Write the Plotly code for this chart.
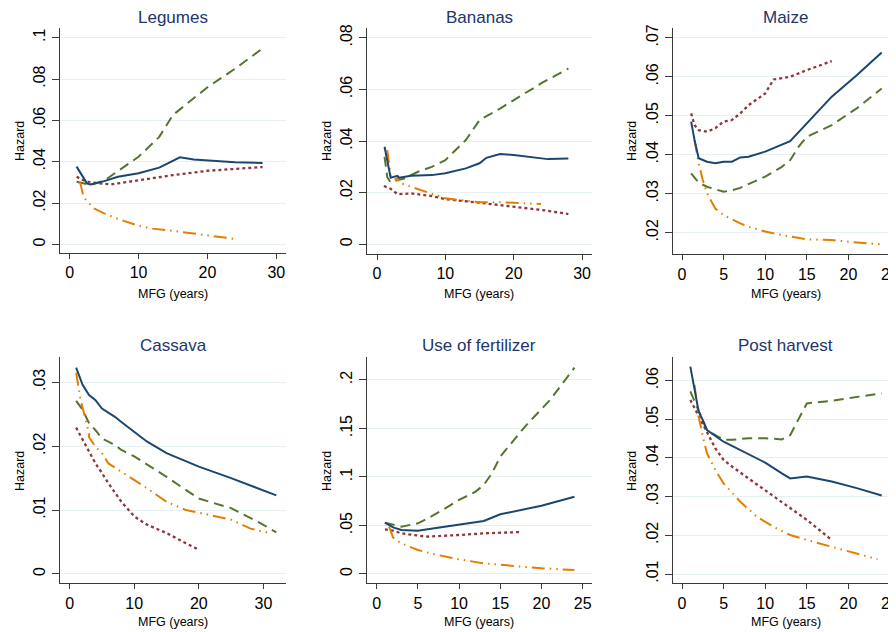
import plotly.graph_objects as go

# The page body has an 8px margin, so the figure is drawn 8px smaller and
# every page coordinate below is shifted by OFF.
OFF = 8
W, H = 896 - OFF, 632 - OFF

# ---------------- data ----------------
titles = ["Legumes", "Bananas", "Maize", "Cassava", "Use of fertilizer", "Post harvest"]
x_title = "MFG (years)"
y_title = "Hazard"

# Legumes
leg_navy_x = [1, 2.5, 3, 5, 7, 10, 13, 16, 18, 24, 28]
leg_navy_y = [0.0376, 0.0295, 0.029, 0.0306, 0.0327, 0.0344, 0.0371, 0.0421, 0.0411, 0.0397, 0.0394]
leg_green_x = [1, 2, 3, 5, 7, 10, 13, 15, 17, 20, 24, 28]
leg_green_y = [0.0303, 0.0295, 0.0287, 0.0308, 0.0355, 0.0424, 0.052, 0.0626, 0.068, 0.076, 0.085, 0.0948]
leg_maroon_x = [1, 2, 3, 6, 10, 15, 20, 25, 28]
leg_maroon_y = [0.0327, 0.031, 0.030, 0.029, 0.031, 0.0335, 0.0356, 0.0368, 0.0374]
leg_orange_x = [1.5, 2, 2.5, 3.5, 5, 7, 10, 12, 15, 18, 22, 24]
leg_orange_y = [0.0303, 0.023, 0.021, 0.0174, 0.015, 0.0123, 0.009, 0.0076, 0.0065, 0.0053, 0.0037, 0.0026]

# Bananas
ban_navy_x = [1.1, 1.5, 2, 3, 3.2, 5, 8, 10, 13, 15, 16, 18, 20, 25, 28]
ban_navy_y = [0.0378, 0.0326, 0.0258, 0.0265, 0.0258, 0.0266, 0.0268, 0.0275, 0.0294, 0.0314, 0.0335, 0.035, 0.0346, 0.033, 0.0332]
ban_green_x = [1.1, 1.5, 2, 3, 4, 6, 8, 10, 13, 15, 18, 20, 24, 28]
ban_green_y = [0.0339, 0.026, 0.0239, 0.0249, 0.0255, 0.0281, 0.030, 0.0326, 0.0404, 0.0481, 0.0526, 0.0559, 0.0623, 0.0681]
ban_maroon_x = [1, 2, 3, 5, 8, 10, 15, 20, 25, 28]
ban_maroon_y = [0.0226, 0.0215, 0.0194, 0.0197, 0.0187, 0.0175, 0.0161, 0.0146, 0.013, 0.0117]
ban_orange_x = [1.5, 2, 3, 3, 3.2, 4, 6, 7, 10, 15, 18, 24]
ban_orange_y = [0.0365, 0.0262, 0.0249, 0.0265, 0.0239, 0.0232, 0.0214, 0.0204, 0.0178, 0.0163, 0.0163, 0.0156]

# Maize
mai_navy_x = [1.1, 1.5, 2, 3, 4, 5, 6, 7, 8, 10, 13, 15, 18, 21, 24]
mai_navy_y = [0.0485, 0.0438, 0.0391, 0.0382, 0.0378, 0.0382, 0.0382, 0.0393, 0.0395, 0.0408, 0.0435, 0.048, 0.0549, 0.0604, 0.0662]
mai_green_x = [1.1, 2, 3, 5, 6, 7, 10, 12, 13, 14, 15, 18, 21, 24]
mai_green_y = [0.0352, 0.0328, 0.0318, 0.0305, 0.0309, 0.0315, 0.0344, 0.0369, 0.0386, 0.042, 0.0446, 0.0476, 0.0519, 0.057]
mai_maroon_x = [1.1, 1.5, 2, 3, 4, 5, 6, 7, 8, 10, 11, 13, 15, 18]
mai_maroon_y = [0.0506, 0.0476, 0.0463, 0.0459, 0.0468, 0.0485, 0.0489, 0.0506, 0.0527, 0.0557, 0.0593, 0.060, 0.0617, 0.064]
mai_orange_x = [1.5, 2, 2.5, 3, 4, 5, 7, 8, 10, 12, 15, 18, 21, 24]
mai_orange_y = [0.0438, 0.0378, 0.0335, 0.0301, 0.0262, 0.0245, 0.0224, 0.0215, 0.0203, 0.0194, 0.0183, 0.0181, 0.0175, 0.017]

# Cassava
cas_navy_x = [1, 2, 3, 4, 5, 7, 8, 10, 12, 15, 20, 25, 30, 32]
cas_navy_y = [0.0323, 0.0296, 0.028, 0.0272, 0.0259, 0.0246, 0.0238, 0.0223, 0.0207, 0.0189, 0.0168, 0.015, 0.0131, 0.0123]
cas_green_x = [1, 2, 3, 4, 5, 7, 8, 10, 13, 15, 20, 25, 30, 32]
cas_green_y = [0.0271, 0.0257, 0.0236, 0.0225, 0.0212, 0.0202, 0.0194, 0.0184, 0.0165, 0.0152, 0.0118, 0.0103, 0.0077, 0.0065]
cas_maroon_x = [1, 2, 3, 4, 5, 6, 8, 10, 12, 15, 18, 20]
cas_maroon_y = [0.0229, 0.021, 0.0191, 0.0173, 0.0158, 0.0142, 0.0113, 0.009, 0.0077, 0.0064, 0.0048, 0.0038]
cas_orange_x = [1, 1.7, 2.5, 3, 3, 4, 5, 6, 8, 10, 12, 15, 18, 20, 25, 28, 31]
cas_orange_y = [0.0315, 0.0272, 0.0241, 0.022, 0.0214, 0.0199, 0.0189, 0.0173, 0.016, 0.0147, 0.0134, 0.0113, 0.010, 0.0096, 0.0085, 0.0071, 0.0064]

# Use of fertilizer
fer_navy_x = [1, 2, 3, 4, 5, 7, 10, 13, 15, 20, 24]
fer_navy_y = [0.0529, 0.0481, 0.0454, 0.0447, 0.0447, 0.0471, 0.0512, 0.0546, 0.0615, 0.0704, 0.0797]
fer_green_x = [1, 2, 3, 5, 6, 8, 10, 12, 13, 14, 15, 18, 21, 24]
fer_green_y = [0.0529, 0.0505, 0.0488, 0.0522, 0.0564, 0.066, 0.0763, 0.0849, 0.0918, 0.104, 0.121, 0.152, 0.179, 0.2127]
fer_maroon_x = [1, 2, 3, 5, 6, 10, 13, 17.5]
fer_maroon_y = [0.046, 0.0447, 0.0419, 0.0392, 0.0385, 0.0402, 0.0419, 0.0433]
fer_orange_x = [1.5, 2, 3, 5, 7, 10, 13, 15, 20, 24]
fer_orange_y = [0.0488, 0.0375, 0.0316, 0.0247, 0.0203, 0.0151, 0.011, 0.0093, 0.0058, 0.0041]

# Post harvest
pos_navy_x = [1, 1.5, 2, 2.5, 3, 5, 7, 9, 10, 12, 13, 15, 18, 21, 24]
pos_navy_y = [0.0636, 0.058, 0.052, 0.0498, 0.0472, 0.0442, 0.0421, 0.0399, 0.0388, 0.036, 0.0347, 0.0352, 0.0339, 0.0322, 0.0303]
pos_green_x = [1, 2, 3, 4, 5, 6, 8, 10, 12, 13, 14, 15, 18, 21, 24]
pos_green_y = [0.0572, 0.0524, 0.0472, 0.0459, 0.0447, 0.0447, 0.0451, 0.0451, 0.0448, 0.0459, 0.0498, 0.0541, 0.0548, 0.0557, 0.0567]
pos_maroon_x = [1, 2, 3, 4, 5, 6, 8, 10, 12, 15, 18]
pos_maroon_y = [0.055, 0.0507, 0.0464, 0.0425, 0.0395, 0.0378, 0.0347, 0.0317, 0.0287, 0.024, 0.0188]
pos_orange_x = [1.5, 2, 2.5, 3, 4, 5, 7, 9, 11, 13, 15, 18, 21, 23.5]
pos_orange_y = [0.0589, 0.0507, 0.0455, 0.0412, 0.0369, 0.0334, 0.0287, 0.0248, 0.0222, 0.0201, 0.0188, 0.0171, 0.0153, 0.0138]

# tick values / labels
x_ticks_30 = [0, 10, 20, 30]
x_ticks_25 = [0, 5, 10, 15, 20, 25]
leg_yticks = [0, 0.02, 0.04, 0.06, 0.08, 0.1]
leg_ylabels = ["0", ".02", ".04", ".06", ".08", ".1"]
ban_yticks = [0, 0.02, 0.04, 0.06, 0.08]
ban_ylabels = ["0", ".02", ".04", ".06", ".08"]
mai_yticks = [0.02, 0.03, 0.04, 0.05, 0.06, 0.07]
mai_ylabels = [".02", ".03", ".04", ".05", ".06", ".07"]
cas_yticks = [0, 0.01, 0.02, 0.03]
cas_ylabels = ["0", ".01", ".02", ".03"]
fer_yticks = [0, 0.05, 0.1, 0.15, 0.2]
fer_ylabels = ["0", ".05", ".1", ".15", ".2"]
pos_yticks = [0.01, 0.02, 0.03, 0.04, 0.05, 0.06]
pos_ylabels = [".01", ".02", ".03", ".04", ".05", ".06"]

# ---------------- styling ----------------
NAVY = "#1a476f"
MAROON = "#90353b"
GREEN = "#55752f"
ORANGE = "#e37e00"
TITLE_C = "#22366a"
GRID = "#e6eff1"
AXC = "#3a3a3a"
FONT = "Liberation Sans, Arial, sans-serif"

styles = {
    "navy": dict(color=NAVY, width=2, dash="solid"),
    "green": dict(color=GREEN, width=2, dash="10px,6px"),
    "maroon": dict(color=MAROON, width=2.3, dash="3px,3px"),
    "orange": dict(color=ORANGE, width=2, dash="13px,5px,1.5px,5px,1.5px,5px"),
}

# layout positions in page pixels
panels = [
    dict(series=[("green", leg_green_x, leg_green_y), ("maroon", leg_maroon_x, leg_maroon_y),
                 ("orange", leg_orange_x, leg_orange_y), ("navy", leg_navy_x, leg_navy_y)],
         px=(60, 286), py=(28, 253), xr=(-1.41, 31.4), yr=(-0.0042, 0.1047),
         xt=x_ticks_30, yt=leg_yticks, yl=leg_ylabels, hx=20),
    dict(series=[("green", ban_green_x, ban_green_y), ("maroon", ban_maroon_x, ban_maroon_y),
                 ("orange", ban_orange_x, ban_orange_y), ("navy", ban_navy_x, ban_navy_y)],
         px=(366.7, 592), py=(28, 254), xr=(-1.51, 31.46), yr=(-0.00376, 0.0838),
         xt=x_ticks_30, yt=ban_yticks, yl=ban_ylabels, hx=327),
    dict(series=[("green", mai_green_x, mai_green_y), ("maroon", mai_maroon_x, mai_maroon_y),
                 ("orange", mai_orange_x, mai_orange_y), ("navy", mai_navy_x, mai_navy_y)],
         px=(672.7, 896), py=(28, 254.3), xr=(-1.12, 25.72), yr=(0.01446, 0.0725),
         xt=x_ticks_25, yt=mai_yticks, yl=mai_ylabels, hx=632),
    dict(series=[("green", cas_green_x, cas_green_y), ("maroon", cas_maroon_x, cas_maroon_y),
                 ("orange", cas_orange_x, cas_orange_y), ("navy", cas_navy_x, cas_navy_y)],
         px=(60, 286), py=(357, 583.3), xr=(-1.5, 33.5), yr=(-0.00146, 0.03396),
         xt=x_ticks_30, yt=cas_yticks, yl=cas_ylabels, hx=20),
    dict(series=[("green", fer_green_x, fer_green_y), ("maroon", fer_maroon_x, fer_maroon_y),
                 ("orange", fer_orange_x, fer_orange_y), ("navy", fer_navy_x, fer_navy_y)],
         px=(366.7, 592), py=(357, 583.3), xr=(-1.21, 26.13), yr=(-0.0096, 0.2237),
         xt=x_ticks_25, yt=fer_yticks, yl=fer_ylabels, hx=327),
    dict(series=[("green", pos_green_x, pos_green_y), ("maroon", pos_maroon_x, pos_maroon_y),
                 ("orange", pos_orange_x, pos_orange_y), ("navy", pos_navy_x, pos_navy_y)],
         px=(672.7, 896), py=(357, 583.3), xr=(-1.12, 25.72), yr=(0.0076, 0.0661),
         xt=x_ticks_25, yt=pos_yticks, yl=pos_ylabels, hx=632),
]


def fx(px):
    return min(max((px - OFF) / W, 0.0), 1.0)


def fy(py):
    return min(max(1 - (py - OFF) / H, 0.0), 1.0)


fig = go.Figure()
layout = dict(width=W, height=H, margin=dict(l=0, r=0, t=0, b=0, autoexpand=False),
              paper_bgcolor="white", plot_bgcolor="white", showlegend=False,
              font=dict(family=FONT, color="black"))
annotations = []

for i, p in enumerate(panels):
    n = i + 1
    xa = "x" if n == 1 else f"x{n}"
    ya = "y" if n == 1 else f"y{n}"
    xkey = "xaxis" if n == 1 else f"xaxis{n}"
    ykey = "yaxis" if n == 1 else f"yaxis{n}"
    layout[xkey] = dict(domain=[fx(p["px"][0]), fx(p["px"][1])], anchor=ya, range=list(p["xr"]),
                        automargin=False, ticklabeloverflow="allow",
                        tickvals=p["xt"], ticktext=[str(t) for t in p["xt"]],
                        showgrid=False, zeroline=False, showline=True, linecolor=AXC,
                        linewidth=1.3, ticks="outside", ticklen=5, tickcolor=AXC,
                        tickfont=dict(size=16, family=FONT, color="black"))
    layout[ykey] = dict(domain=[fy(p["py"][1]), fy(p["py"][0])], anchor=xa, range=list(p["yr"]),
                        automargin=False, ticklabeloverflow="allow",
                        tickvals=p["yt"], ticktext=p["yl"], tickangle=-90,
                        showgrid=True, gridcolor=GRID, gridwidth=1.3, zeroline=False,
                        showline=True, linecolor=AXC, linewidth=1.3,
                        ticks="outside", ticklen=7, tickcolor=AXC,
                        tickfont=dict(size=16, family=FONT, color="black"))
    for key, xs, ys in p["series"]:
        fig.add_trace(go.Scatter(x=xs, y=ys, mode="lines", line=styles[key],
                                 xaxis=xa, yaxis=ya, hoverinfo="skip"))
    right = p["px"][1] if n not in (3, 6) else 899
    cx = (p["px"][0] + right) / 2
    row1 = n <= 3
    ty = 17.5 if row1 else 345
    annotations.append(dict(text=titles[i], x=(cx - OFF) / W, y=fy(ty), xref="paper", yref="paper",
                            showarrow=False, xanchor="center", yanchor="middle",
                            font=dict(size=17, family=FONT, color=TITLE_C)))
    my = 294 if row1 else 622
    annotations.append(dict(text=x_title, x=(cx - OFF) / W, y=fy(my), xref="paper", yref="paper",
                            showarrow=False, xanchor="center", yanchor="middle",
                            font=dict(size=12.5, family=FONT, color="black")))
    hy = 141 if row1 else 471
    annotations.append(dict(text=y_title, x=fx(p["hx"]), y=fy(hy), xref="paper", yref="paper",
                            showarrow=False, xanchor="center", yanchor="middle", textangle=-90,
                            font=dict(size=12.5, family=FONT, color="black")))

layout["annotations"] = annotations
fig.update_layout(**layout)
fig.write_html("out.html")
